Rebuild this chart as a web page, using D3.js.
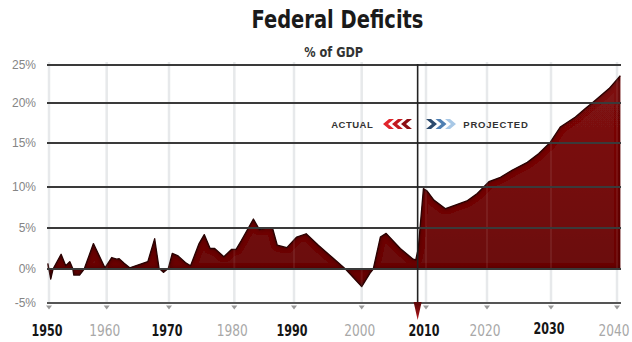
<!DOCTYPE html>
<html>
<head>
<meta charset="utf-8">
<script src="https://cdn.jsdelivr.net/npm/d3@7"></script>
<style>
  html, body { margin: 0; padding: 0; background: #fff; }
  svg { display: block; }
</style>
</head>
<body>
<svg id="chart" width="632" height="342"></svg>
<script>
// ---------- DATA ----------
const titleText = "Federal Deficits";
const subtitleText = "% of GDP";

const actualYears = [1949.8, 1950.3, 1950.7, 1952.1, 1952.9, 1953.6, 1954.1, 1954.3, 1955.3, 1956.1,
  1957.7, 1959.7, 1960.8, 1961.6, 1962.0, 1962.8, 1963.7, 1966.6, 1967.7, 1968.4,
  1969.1, 1969.9, 1970.5, 1971.4, 1972.5, 1973.3, 1974.6, 1975.4, 1976.3, 1977.0,
  1978.4, 1979.6, 1980.3, 1981.2, 1983.2, 1984.2, 1985.4, 1986.4, 1987.2, 1988.8,
  1990.4, 1991.8, 1993.6, 1995.8, 1997.6, 2000.0, 2001.3, 2001.8, 2002.9, 2003.8,
  2006.0, 2008.0, 2008.4, 2008.8];
const actualValues = [0.7, -1.5, 0.0, 1.8, 0.4, 0.9, 0.1, -0.9, -0.9, 0.0,
  3.1, 0.15, 1.4, 1.2, 1.25, 0.7, 0.15, 0.9, 3.7, 0.1,
  -0.5, 0.1, 1.9, 1.6, 0.8, 0.4, 3.1, 4.2, 2.5, 2.5,
  1.5, 2.4, 2.4, 3.5, 6.1, 4.8, 5.0, 5.0, 2.9, 2.6,
  3.9, 4.3, 2.9, 1.3, 0.0, -2.6, -0.6, 0.0, 3.9, 4.35,
  2.5, 1.2, 1.1, 2.5];

const projectedYears = [2009.6, 2010.2, 2011.3, 2013.2, 2014.8, 2016.7, 2018.4, 2020.3, 2022.1, 2023.9,
  2026.3, 2028.1, 2029.9, 2031.4, 2033.7, 2035.2, 2036.5, 2038.8, 2040.5];
const projectedValues = [9.8, 9.5, 8.4, 7.35, 7.8, 8.3, 9.2, 10.6, 11.1, 11.9,
  12.8, 13.8, 15.1, 17.0, 18.25, 19.3, 20.2, 21.9, 23.6];

const dividerYear = 2008.7;
const xTickYears = [1950, 1960, 1970, 1980, 1990, 2000, 2010, 2020, 2030, 2040];
const xTickLabels = ["1950", "1960", "1970", "1980", "1990", "2000", "2010", "2020", "2030", "2040"];
const xTickEmphasis = [true, false, true, false, true, false, true, false, true, false];
const yTickValues = [-5, 0, 5, 10, 15, 20, 25];
const yTickLabels = ["-5%", "0%", "5%", "10%", "15%", "20%", "25%"];
const legendLabels = ["ACTUAL", "PROJECTED"];

// ---------- SCALES ----------
const x = d3.scaleLinear()
  .domain(xTickYears)
  .range([49, 106.7, 169, 234.3, 294, 361.7, 426, 487, 551, 617]);
const y = d3.scaleLinear()
  .domain(yTickValues)
  .range([303, 269, 228, 187, 143, 103, 65]);

const plotLeft = 47, plotRight = 621, plotTop = 62;

const series = actualYears.map((yr, i) => ({ year: yr, value: actualValues[i] }))
  .concat(projectedYears.map((yr, i) => ({ year: yr, value: projectedValues[i] })));

const svg = d3.select("#chart");
const condensed = "'Liberation Sans Narrow', 'Arial Narrow', 'DejaVu Sans Condensed', sans-serif";
const sans = "'Liberation Sans', Arial, 'DejaVu Sans', sans-serif";

// helper: place a text centred at (cx, by) and squeeze it horizontally to a target width
function fitText(sel, cx, by, width) {
  sel.attr("x", 0).attr("y", 0).attr("text-anchor", "middle");
  const len = sel.node().getComputedTextLength();
  const s = len > 0 ? width / len : 1;
  sel.attr("transform", `translate(${cx},${by}) scale(${s},1)`);
}

// ---------- DEFS ----------
const defs = svg.append("defs");
const ag = defs.append("linearGradient").attr("id", "areaGrad")
  .attr("x1", 0).attr("y1", 0).attr("x2", 0).attr("y2", 1);
ag.append("stop").attr("offset", "0%").attr("stop-color", "#801313");
ag.append("stop").attr("offset", "100%").attr("stop-color", "#690b0b");

const f = defs.append("filter").attr("id", "inner")
  .attr("x", "-5%").attr("y", "-10%").attr("width", "110%").attr("height", "120%");
f.append("feFlood").attr("flood-color", "#1c0202").attr("result", "fl");
f.append("feComposite").attr("in", "fl").attr("in2", "SourceAlpha").attr("operator", "out").attr("result", "out");
f.append("feGaussianBlur").attr("in", "out").attr("stdDeviation", 2.8).attr("result", "bl");
f.append("feComposite").attr("in", "bl").attr("in2", "SourceAlpha").attr("operator", "in").attr("result", "sh");
const fm = f.append("feMerge");
fm.append("feMergeNode").attr("in", "SourceGraphic");
fm.append("feMergeNode").attr("in", "sh");

const mg = defs.append("linearGradient").attr("id", "markerGrad")
  .attr("x1", 0).attr("y1", 0).attr("x2", 0).attr("y2", 1);
mg.append("stop").attr("offset", "0%").attr("stop-color", "#5a0606");
mg.append("stop").attr("offset", "100%").attr("stop-color", "#b3161b");

// ---------- TITLE ----------
fitText(svg.append("text")
  .style("font-family", condensed).style("font-weight", "bold").style("font-size", "25px")
  .attr("fill", "#1a1a1a")
  .text(titleText), 337.5, 28.3, 172);
fitText(svg.append("text")
  .style("font-family", condensed).style("font-weight", "bold").style("font-size", "14px")
  .attr("fill", "#333")
  .text(subtitleText), 333.7, 56.7, 59);

// ---------- VERTICAL GRID (under) ----------
svg.append("g").selectAll("line").data(xTickYears).join("line")
  .attr("x1", d => x(d)).attr("x2", d => x(d))
  .attr("y1", plotTop).attr("y2", y(-5))
  .attr("stroke", "#e6e8ea").attr("stroke-width", 2.5);

// ---------- AREA ----------
const area = d3.area()
  .x(d => x(d.year))
  .y0(y(0))
  .y1(d => y(d.value));
const line = d3.line().x(d => x(d.year)).y(d => y(d.value));

svg.append("path").datum(series)
  .attr("d", area)
  .attr("fill", "url(#areaGrad)")
  .attr("filter", "url(#inner)");
svg.append("path").datum(series)
  .attr("d", line)
  .attr("fill", "none")
  .attr("stroke", "#2a0303").attr("stroke-width", 1.3).attr("stroke-linejoin", "round");

// vertical grid overlay on the fill
svg.append("g").selectAll("line").data(xTickYears).join("line")
  .attr("x1", d => x(d)).attr("x2", d => x(d))
  .attr("y1", plotTop).attr("y2", y(-5))
  .attr("stroke", "rgba(255,255,255,0.07)").attr("stroke-width", 2);

// ---------- HORIZONTAL GRID ----------
svg.append("g").selectAll("line").data(yTickValues).join("line")
  .attr("x1", plotLeft).attr("x2", plotRight)
  .attr("y1", d => y(d)).attr("y2", d => y(d))
  .attr("stroke", d => d === -5 ? "#555" : "#3a3a3a")
  .attr("stroke-width", 1.8);

// ---------- Y LABELS ----------
svg.append("g").selectAll("text").data(yTickValues).join("text")
  .attr("x", 36).attr("y", d => y(d) + 4.3)
  .attr("text-anchor", "end")
  .style("font-family", sans).style("font-size", "12px")
  .attr("fill", "#858585")
  .text((d, i) => yTickLabels[i]);

// ---------- X TICK TRIANGLES ----------
svg.append("g").selectAll("path").data(xTickYears).join("path")
  .attr("d", d => `M${x(d) - 3},305.5 L${x(d) + 3},305.5 L${x(d)},309.5 Z`)
  .attr("fill", "#9a9a9a");

// ---------- X LABELS ----------
svg.append("g").selectAll("text").data(xTickYears).join("text")
  .style("font-family", condensed)
  .style("font-weight", (d, i) => xTickEmphasis[i] ? "bold" : "normal")
  .style("font-size", "16.5px")
  .attr("fill", (d, i) => xTickEmphasis[i] ? "#151515" : "#a8a8a8")
  .text((d, i) => xTickLabels[i])
  .each(function (d, i) {
    const cx = i === xTickYears.length - 1 ? x(d) - 3 : x(d) - 2;
    fitText(d3.select(this), cx, d === 2030 ? 334.3 : 335.7, 31);
  });

// ---------- DIVIDER ----------
const dx = x(dividerYear);
svg.append("line").attr("x1", dx).attr("x2", dx)
  .attr("y1", y(25) - 1).attr("y2", y(-5))
  .attr("stroke", "#222").attr("stroke-width", 1.6);
svg.append("path")
  .attr("d", `M${dx - 4},302 L${dx + 4},302 L${dx},320 Z`)
  .attr("fill", "url(#markerGrad)");

// ---------- LEGEND ----------
const legY = 124;
svg.append("text").attr("x", 373.3).attr("y", legY + 3.5)
  .attr("text-anchor", "end")
  .style("font-family", sans).style("font-weight", "bold").style("font-size", "9.5px")
  .style("letter-spacing", "0.5px")
  .attr("fill", "#333")
  .text(legendLabels[0]);
svg.append("text").attr("x", 463.3).attr("y", legY + 3.5)
  .attr("text-anchor", "start")
  .style("font-family", sans).style("font-weight", "bold").style("font-size", "9.5px")
  .style("letter-spacing", "0.8px")
  .attr("fill", "#333")
  .text(legendLabels[1]);

// chevrons
const redCols = ["#e1262c", "#c21a20", "#8c0f14"];
const blueCols = ["#2c4a6d", "#4f7fb2", "#a8c8e6"];
function chevLeft(x0) { // tip on the left
  return `M${x0},${legY} L${x0 + 6},${legY - 5} L${x0 + 11},${legY - 5} L${x0 + 5},${legY} L${x0 + 11},${legY + 5} L${x0 + 6},${legY + 5} Z`;
}
function chevRight(x0) { // tip on the right
  return `M${x0 + 11},${legY} L${x0 + 5},${legY - 5} L${x0},${legY - 5} L${x0 + 6},${legY} L${x0},${legY + 5} L${x0 + 5},${legY + 5} Z`;
}
svg.append("g").selectAll("path").data(redCols).join("path")
  .attr("d", (c, i) => chevLeft(383 + i * 9))
  .attr("fill", c => c);
svg.append("g").selectAll("path").data(blueCols).join("path")
  .attr("d", (c, i) => chevRight(426 + i * 9.5))
  .attr("fill", c => c);
</script>
</body>
</html>
